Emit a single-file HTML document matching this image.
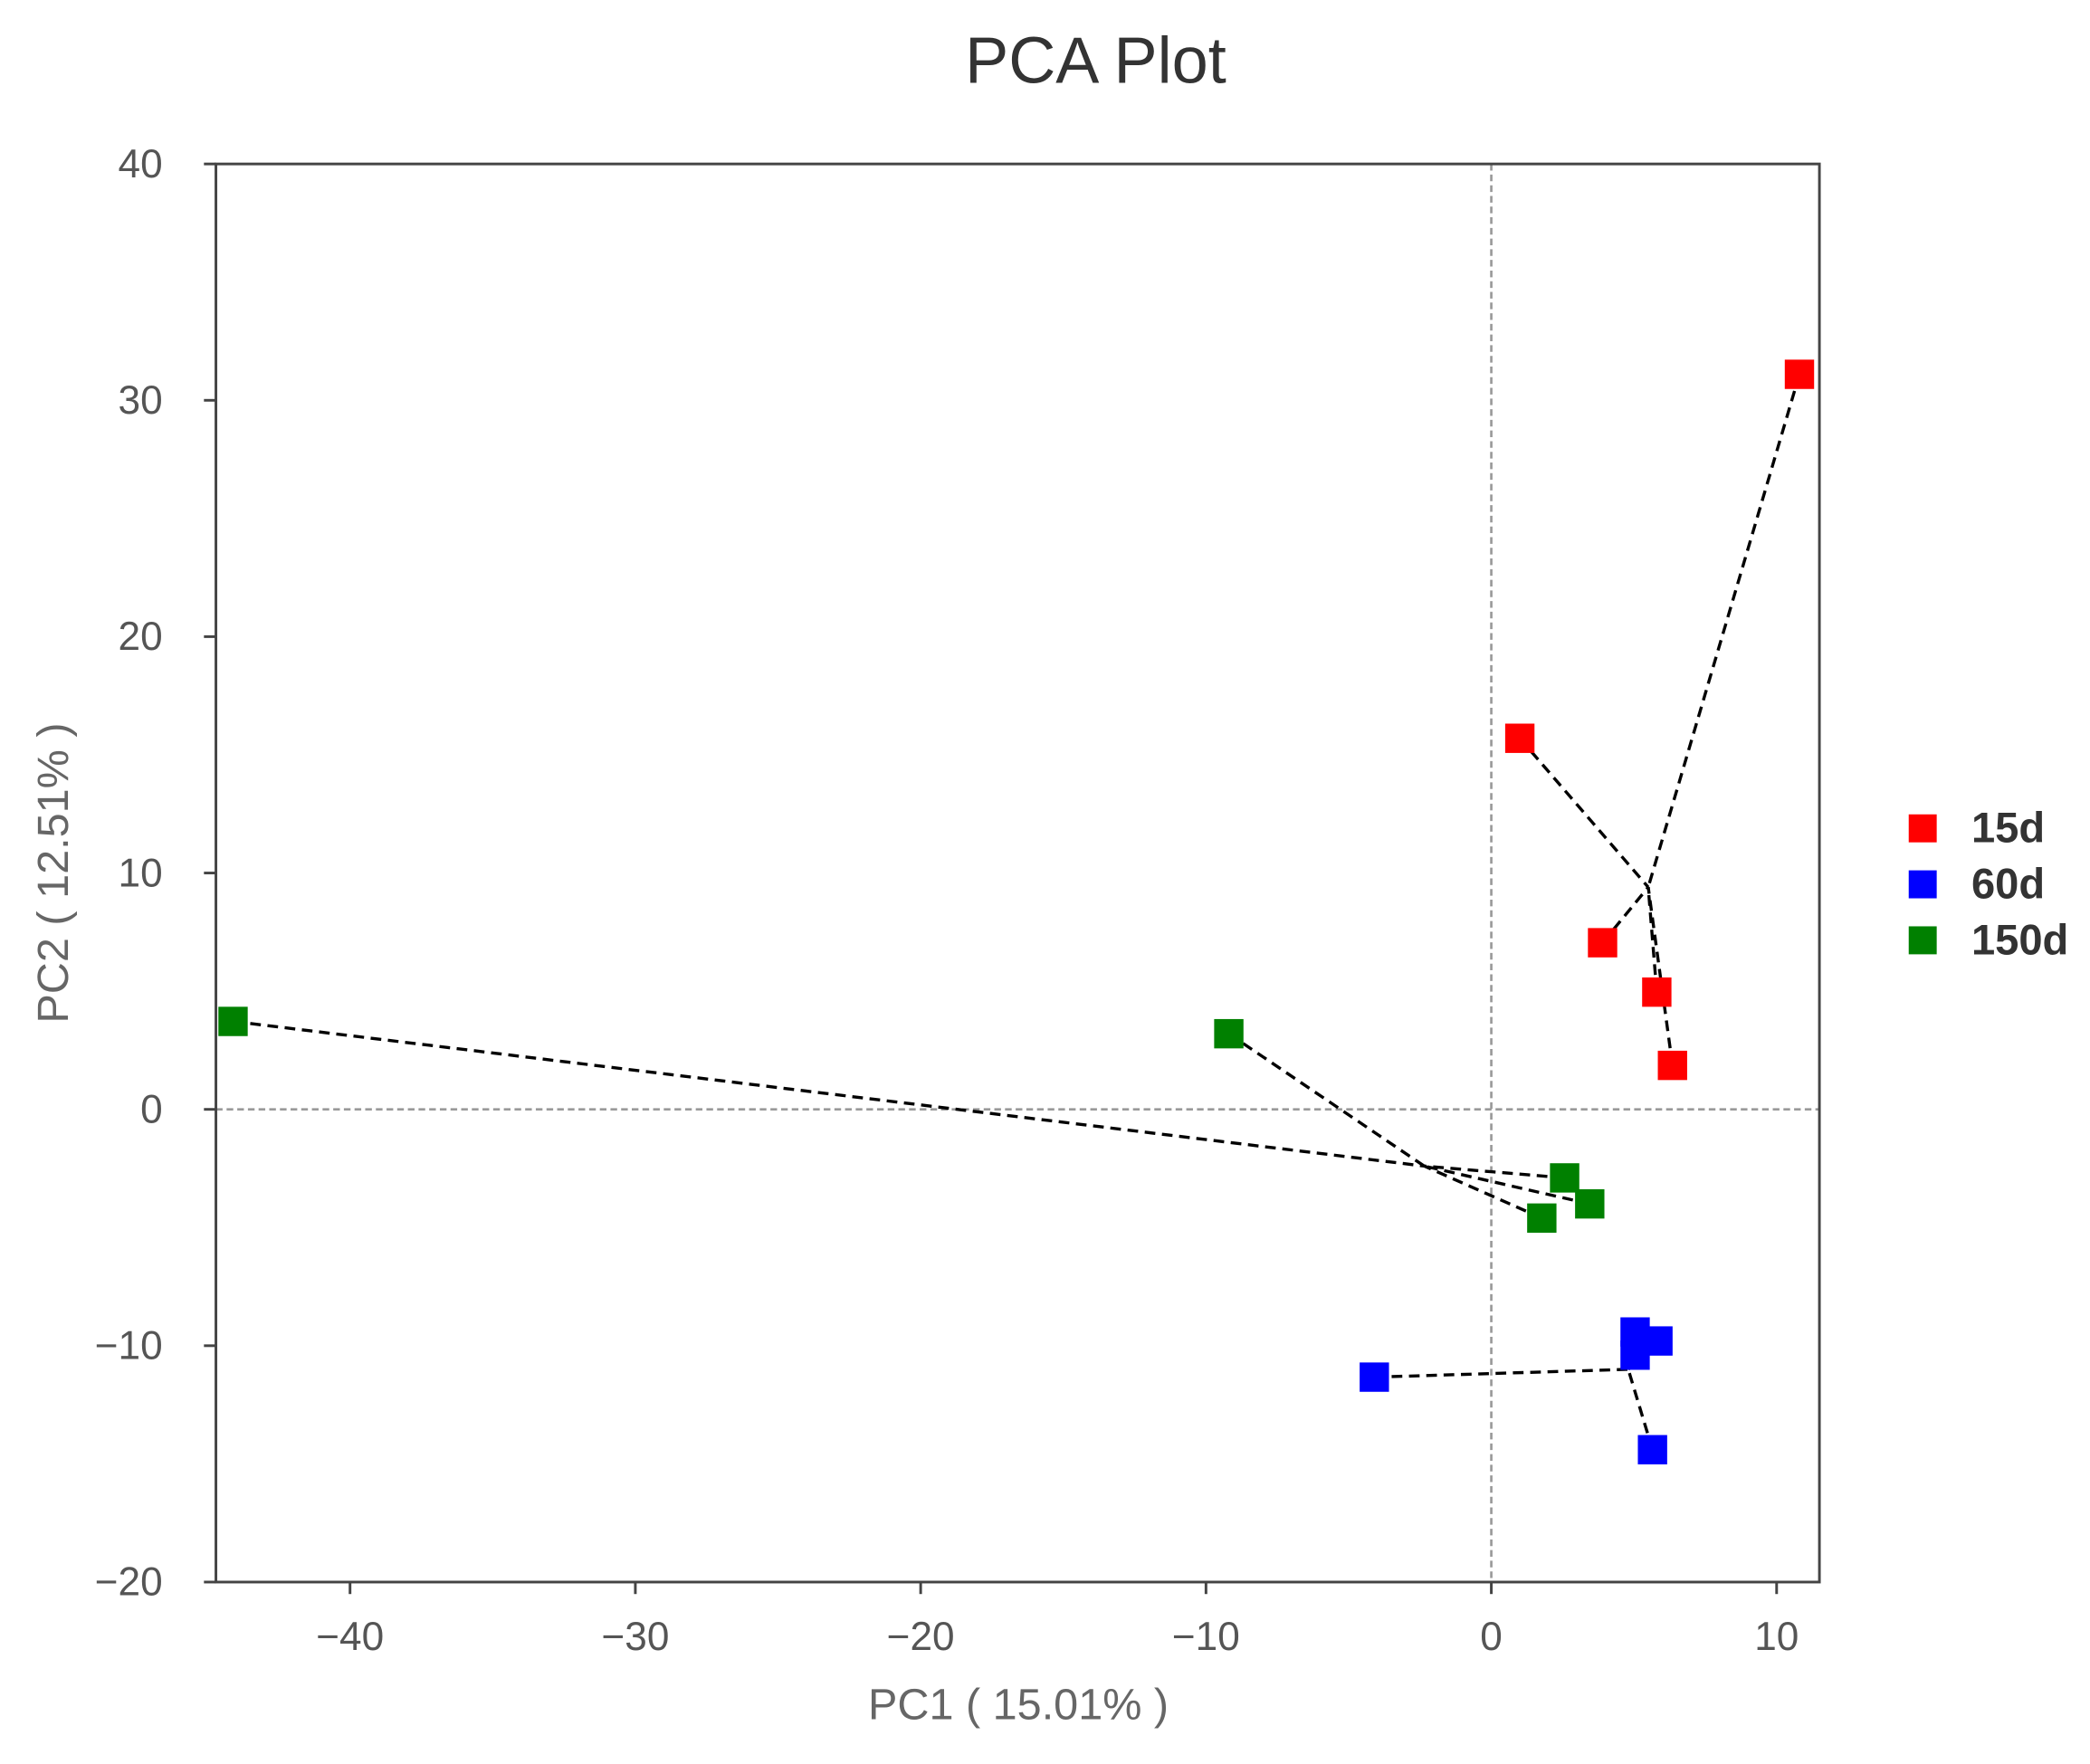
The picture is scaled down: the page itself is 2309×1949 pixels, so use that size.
<!DOCTYPE html>
<html><head><meta charset="utf-8"><title>PCA Plot</title>
<style>html,body{margin:0;padding:0;background:#fff}svg{display:block}</style></head>
<body>
<svg id="chart" width="2309" height="1949" viewBox="0 0 1568 1323.5" xmlns="http://www.w3.org/2000/svg" font-family="Liberation Sans, Arial, sans-serif">
<text x="822" y="62" text-anchor="middle" font-size="49" fill="#333">PCA Plot</text>
<g id="plot"></g>
<text x="764" y="1290" text-anchor="middle" font-size="33" fill="#666">PC1 ( 15.01% )</text>
<text transform="translate(51,655) rotate(-90)" text-anchor="middle" font-size="33" fill="#666">PC2 ( 12.51% )</text>
</svg>
<script>
const groups = ["15d", "60d", "150d"];
const colors = ["#ff0000", "#0000ff", "#008000"];
const xs15 = [10.8, 1.0, 3.9, 5.8, 6.35];
const ys15 = [31.1, 15.7, 7.05, 4.96, 1.86];
const xs60 = [-4.1, 5.04, 5.84, 5.04, 5.65];
const ys60 = [-11.33, -9.42, -9.8, -10.4, -14.4];
const xs150 = [-44.1, -9.2, 2.57, 3.45, 1.77];
const ys150 = [3.72, 3.2, -2.9, -4.0, -4.6];
const hubX = [5.5, 4.8, -2.35];
const hubY = [9.4, -11.0, -2.4];
const xTicks = [-40, -30, -20, -10, 0, 10];
const yTicks = [-20, -10, 0, 10, 20, 30, 40];

const L=162,R=1365,T=123,B=1187;
const xMin=-44.7,xMax=11.5,yMin=-20,yMax=40;
const X=v=>L+(v-xMin)/(xMax-xMin)*(R-L);
const Y=v=>B-(v-yMin)/(yMax-yMin)*(B-T);
const NS="http://www.w3.org/2000/svg";
const g=document.getElementById('plot');
function mk(tag,attrs,parent){const e=document.createElementNS(NS,tag);for(const k in attrs)e.setAttribute(k,attrs[k]);(parent||g).appendChild(e);return e;}

let e;
e=mk('line',{x1:X(0),x2:X(0),y1:T,y2:B,stroke:'#999','stroke-width':1.8,'stroke-dasharray':'5,3'});


e=mk('line',{x1:L,x2:R,y1:Y(0),y2:Y(0),stroke:'#999','stroke-width':1.8,'stroke-dasharray':'5,3'});



const series=[[xs15,ys15],[xs60,ys60],[xs150,ys150]];
series.forEach((s,gi)=>{
  const xs=s[0],ys=s[1];
  const cx=hubX[gi], cy=hubY[gi];
  xs.forEach((x,i)=>{
    const l=mk('line',{x1:X(x),y1:Y(ys[i]),x2:X(cx),y2:Y(cy),stroke:'#000','stroke-width':2.3,'stroke-dasharray':'8,5'});
    
    
  });
});
series.forEach((s,gi)=>{
  const xs=s[0],ys=s[1];
  xs.forEach((x,i)=>{
    const r=mk('rect',{x:X(x)-11,y:Y(ys[i])-11,width:22,height:22,fill:colors[gi]});
    
    
  });
});

e=mk('rect',{x:L,y:T,width:R-L,height:B-T,fill:'none',stroke:'#444','stroke-width':2});



xTicks.forEach(t=>{
  const l=mk('line',{x1:X(t),x2:X(t),y1:B,y2:B+9,stroke:'#444','stroke-width':2});
  
  
  const tx=mk('text',{x:X(t),y:B+51,'text-anchor':'middle','font-size':30,fill:'#555'});
  tx.textContent=t<0?'\u2212'+(-t):String(t);
  
  
});
yTicks.forEach(t=>{
  const l=mk('line',{x1:L-9,x2:L,y1:Y(t),y2:Y(t),stroke:'#444','stroke-width':2});
  
  
  const tx=mk('text',{x:L-40,y:Y(t)+10,'text-anchor':'end','font-size':30,fill:'#555'});
  tx.textContent=t<0?'\u2212'+(-t):String(t);
  
  
});

groups.forEach((name,i)=>{
  const y=621+i*42;
  const r=mk('rect',{x:1432,y:y-10,width:21,height:21,fill:colors[i]});
  
  
  const t=mk('text',{x:1479,y:y+11,'font-size':32,'font-weight':'bold',fill:'#333'});
  t.textContent=name;
  
  
});
</script>
</body></html>
